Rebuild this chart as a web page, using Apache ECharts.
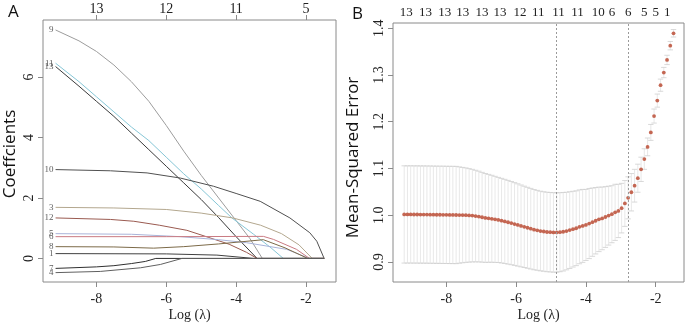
<!DOCTYPE html>
<html><head><meta charset="utf-8">
<script src="https://cdn.jsdelivr.net/npm/echarts@6/dist/echarts.min.js"></script>
<style>html,body{margin:0;padding:0;background:#fff}#c{width:688px;height:323px}</style>
</head><body><div id="c"></div>
<script>
// ---------- Panel A: coefficient paths (log lambda, coefficient) ----------
const coef9  = [[-9.17,7.56],[-8.5,7.2],[-8,6.85],[-7.5,6.4],[-7,5.85],[-6.5,5.2],[-6,4.4],[-5.5,3.55],[-5,2.75],[-4.5,2.0],[-4,1.25],[-3.6,0.65],[-3.25,0],[-1.48,0]];
const coef11 = [[-9.17,6.46],[-8.5,5.85],[-8,5.35],[-7.5,4.85],[-7,4.35],[-6.5,3.9],[-6,3.35],[-5.5,2.8],[-5,2.3],[-4.5,1.75],[-4.12,1.34],[-3.5,0.8],[-3,0.35],[-2.65,0],[-1.48,0]];
const coef13 = [[-9.17,6.35],[-8.5,5.7],[-8,5.2],[-7.5,4.7],[-7,4.15],[-6.5,3.6],[-6,3.05],[-5.5,2.5],[-5,1.95],[-4.5,1.35],[-4,0.72],[-3.4,0],[-1.48,0]];
const coef10 = [[-9.17,2.94],[-7.6,2.9],[-6.55,2.83],[-5.6,2.66],[-4.65,2.39],[-4,2.15],[-3.31,1.89],[-2.46,1.34],[-1.89,0.85],[-1.69,0.57],[-1.48,0]];
const coef3  = [[-9.17,1.69],[-7.5,1.67],[-6,1.62],[-5,1.5],[-4.1,1.34],[-3.3,1.1],[-2.7,0.82],[-2.2,0.45],[-1.82,0],[-1.48,0]];
const coef12 = [[-9.17,1.34],[-7.6,1.29],[-6.93,1.23],[-6.2,1.1],[-5.41,0.93],[-4.8,0.7],[-4.2,0.47],[-3.7,0.2],[-3.4,0],[-1.48,0]];
const coef5  = [[-9.17,0.82],[-7,0.8],[-5.6,0.72],[-4.5,0.62],[-3.7,0.52],[-2.55,0.3],[-1.9,0],[-1.48,0]];
const coef6  = [[-9.17,0.72],[-6,0.72],[-3.22,0.73],[-2.93,0.63],[-2.27,0.3],[-1.9,0],[-1.48,0]];
const coef8  = [[-9.17,0.39],[-7.5,0.38],[-6.36,0.34],[-5.5,0.39],[-4.5,0.48],[-3.22,0.62],[-2.6,0.35],[-1.95,0],[-1.48,0]];
const coef1  = [[-9.17,0.16],[-6,0.15],[-4.55,0.11],[-3.5,0],[-1.48,0]];
const coef7  = [[-9.17,-0.33],[-8,-0.28],[-7.5,-0.24],[-7,-0.17],[-6.6,-0.1],[-6.3,0],[-1.48,0]];
const coef4  = [[-9.17,-0.47],[-7.89,-0.43],[-6.74,-0.31],[-6.17,-0.2],[-5.55,0],[-1.48,0]];
const pathNames  = ['9','11','13','10','3','12','5','6','8','1','7','4'];
const pathColors = ['#9c9c9c','#86c6d6','#3a3a3a','#505050','#b3a78e','#9a5a50','#a9b3d8','#c97a82','#7c6a48','#404040','#303030','#606060'];
const pathData   = [coef9,coef11,coef13,coef10,coef3,coef12,coef5,coef6,coef8,coef1,coef7,coef4];
const topTicksA  = [-8,-6,-4,-2];
const topLabelsA = ['13','12','11','5'];
const xTicks = [-8,-6,-4,-2];
const yTicksA = [0,2,4,6];

// ---------- Panel B: cross-validation curve ----------
const logLambda = [-9.209,-9.116,-9.023,-8.93,-8.837,-8.744,-8.651,-8.558,-8.465,-8.372,-8.279,-8.186,-8.093,-8.0,-7.907,-7.814,-7.721,-7.628,-7.535,-7.442,-7.349,-7.256,-7.163,-7.07,-6.977,-6.884,-6.791,-6.698,-6.605,-6.512,-6.419,-6.326,-6.233,-6.14,-6.047,-5.954,-5.861,-5.768,-5.675,-5.582,-5.489,-5.396,-5.303,-5.21,-5.117,-5.024,-4.931,-4.838,-4.745,-4.652,-4.559,-4.466,-4.373,-4.28,-4.187,-4.094,-4.001,-3.908,-3.815,-3.722,-3.629,-3.536,-3.443,-3.35,-3.257,-3.164,-3.071,-2.978,-2.885,-2.792,-2.699,-2.606,-2.513,-2.42,-2.327,-2.234,-2.141,-2.048,-1.955,-1.862,-1.769,-1.676,-1.583,-1.49];
const mse = [1.0015,1.0015,1.0015,1.0014,1.0014,1.0013,1.0013,1.0012,1.0011,1.001,1.0009,1.0008,1.0007,1.0006,1.0005,1.0004,1.0003,1.0002,1.0001,1.0,0.9995,0.999,0.998,0.997,0.9955,0.994,0.9932,0.9922,0.991,0.9897,0.9882,0.9866,0.9848,0.983,0.981,0.979,0.977,0.975,0.973,0.971,0.969,0.9675,0.966,0.965,0.964,0.9635,0.963,0.963,0.9635,0.9645,0.966,0.968,0.970,0.972,0.975,0.977,0.979,0.982,0.985,0.988,0.991,0.993,0.996,0.999,1.002,1.006,1.009,1.015,1.025,1.037,1.049,1.063,1.079,1.098,1.12,1.146,1.177,1.212,1.245,1.278,1.305,1.332,1.3625,1.389];
const cvse = [0.104,0.104,0.104,0.104,0.104,0.104,0.104,0.104,0.104,0.104,0.104,0.104,0.104,0.104,0.104,0.104,0.104,0.103,0.102,0.101,0.1,0.099,0.098,0.097,0.096,0.095,0.094,0.093,0.092,0.091,0.0905,0.09,0.0895,0.089,0.0885,0.088,0.0875,0.087,0.0866,0.0862,0.0858,0.0855,0.0852,0.085,0.085,0.085,0.085,0.085,0.0845,0.084,0.083,0.082,0.081,0.08,0.079,0.078,0.076,0.075,0.073,0.071,0.069,0.067,0.065,0.063,0.061,0.06,0.057,0.053,0.049,0.045,0.04,0.035,0.03,0.026,0.022,0.019,0.017,0.015,0.014,0.013,0.011,0.01,0.009,0.008];
const vlines = [-4.838,-2.792];
const topPosB = [-9.15,-8.6,-8.05,-7.53,-6.98,-6.46,-5.89,-5.37,-4.79,-4.24,-3.65,-3.25,-2.79,-2.33,-2.0,-1.67];
const topLabB = ['13','13','13','13','13','13','12','11','11','11','10','6','6','5','5','1'];
const yTicksB = [0.9,1.0,1.1,1.2,1.3,1.4];

const SERIF = 'Liberation Serif';
const SANS = 'Open Sans';
const AX = '#8a8a8a';
const TXT = '#222';

function xAx(grid, min, max) {
  return {
    type:'value', gridIndex:grid, min:min, max:max,
    axisLine:{show:false, onZero:false}, splitLine:{show:false},
    axisTick:{show:true, length:5, lineStyle:{color:AX}, customValues:xTicks},
    axisLabel:{customValues:xTicks, fontFamily:SERIF, fontSize:14, color:TXT, margin:10},
    name:'Log (\u03bb)', nameLocation:'middle', nameGap:26, nameMoveOverlap:false,
    nameTextStyle:{fontFamily:SERIF, fontSize:14, color:TXT}
  };
}
function yAx(grid, min, max, ticks, name, gap, fmt, pad) {
  return {
    type:'value', gridIndex:grid, min:min, max:max,
    axisLine:{show:false, onZero:false}, splitLine:{show:false},
    axisTick:{show:true, length:5, lineStyle:{color:AX}, customValues:ticks},
    axisLabel:{customValues:ticks, rotate:90, align:'center', verticalAlign:'bottom',
      fontFamily:SERIF, fontSize:14, color:TXT, margin:7, formatter:fmt},
    name:name, nameLocation:'middle', nameGap:gap, nameRotate:90, nameMoveOverlap:false,
    nameTextStyle:{fontFamily:SANS, fontSize:17, color:'#111', padding:[0,pad,0,0]}
  };
}
function nearestLabel(v, pos, lab){
  let bi=0, bd=1e9; pos.forEach((p,i)=>{const d=Math.abs(p-v); if(d<bd){bd=d;bi=i;}}); return lab[bi];
}

const series = [];
pathData.forEach((d,i)=>{
  series.push({
    type:'line', xAxisIndex:0, yAxisIndex:0, showSymbol:false, symbol:'none', silent:true,
    lineStyle:{color:pathColors[i], width:1}, z:2, data:d, animation:false
  });
});
// variable labels at the left end of each path
series.push({
  type:'scatter', xAxisIndex:0, yAxisIndex:0, silent:true, symbolSize:2, z:4,
  itemStyle:{color:'rgba(0,0,0,0)'},
  data: pathData.map((d,i)=>({value:d[0], name:pathNames[i]})),
  label:{show:true, position:'left', distance:1, formatter:(p)=>p.name,
    fontFamily:SERIF, fontSize:9, color:'#333'},
  labelLayout:{hideOverlap:false},
  animation:false
});

const errData = logLambda.map((x,i)=>[x, mse[i]-cvse[i], mse[i]+cvse[i]]);
const capW = (logLambda[logLambda.length-1]-logLambda[0])*0.01;
series.push({
  type:'custom', xAxisIndex:2, yAxisIndex:1, silent:true, z:1,
  data: errData,
  renderItem:function(params, api){
    const x=api.value(0), lo=api.value(1), hi=api.value(2);
    const a=api.coord([x,hi]), b=api.coord([x,lo]);
    const aL=api.coord([x-capW,hi]), aR=api.coord([x+capW,hi]);
    const bL=api.coord([x-capW,lo]), bR=api.coord([x+capW,lo]);
    const st={stroke:'#cfcfcf', lineWidth:0.8};
    return {type:'group', children:[
      {type:'line', shape:{x1:a[0],y1:a[1],x2:b[0],y2:b[1]}, style:{stroke:'#e2e2e2', lineWidth:0.8}},
      {type:'line', shape:{x1:aL[0],y1:aL[1],x2:aR[0],y2:aR[1]}, style:st},
      {type:'line', shape:{x1:bL[0],y1:bL[1],x2:bR[0],y2:bR[1]}, style:st}
    ]};
  },
  animation:false
});
series.push({
  type:'scatter', xAxisIndex:2, yAxisIndex:1, symbolSize:3.8, z:3, silent:true,
  itemStyle:{color:'#b8432a'},
  data: logLambda.map((x,i)=>[x,mse[i]]),
  markLine:{symbol:'none', silent:true, label:{show:false}, animation:false,
    lineStyle:{type:[2,2], color:'#9a9a9a', width:1},
    data: vlines.map(v=>({xAxis:v}))},
  animation:false
});

const option = {
  animation:false,
  title:[
    {text:'A', left:3, top:-1, textStyle:{fontFamily:SANS, fontSize:17, fontWeight:'normal', color:'#111'}},
    {text:'B', left:347, top:1, textStyle:{fontFamily:SANS, fontSize:17, fontWeight:'normal', color:'#111'}}
  ],
  grid:[
    {left:43, top:20, width:293, height:262, show:true, borderColor:AX, borderWidth:1, backgroundColor:'transparent', outerBoundsMode:'none', containLabel:false},
    {left:393, top:23, width:291, height:259, show:true, borderColor:AX, borderWidth:1, backgroundColor:'transparent', outerBoundsMode:'none', containLabel:false}
  ],
  xAxis:[
    xAx(0,-9.53,-1.14),
    {type:'value', gridIndex:0, position:'top', min:-9.53, max:-1.14,
     axisLine:{show:false, onZero:false}, splitLine:{show:false},
     axisTick:{show:true, length:5, lineStyle:{color:AX}, customValues:topTicksA},
     axisLabel:{customValues:topTicksA, fontFamily:SERIF, fontSize:14, color:TXT, margin:4,
       formatter:(v)=>nearestLabel(v, topTicksA, topLabelsA)}},
    xAx(1,-9.53,-1.19),
    {type:'value', gridIndex:1, position:'top', min:-9.53, max:-1.19,
     axisLine:{show:false, onZero:false}, splitLine:{show:false},
     axisTick:{show:false},
     axisLabel:{customValues:topPosB, fontFamily:SERIF, fontSize:13, color:TXT, margin:4,
       formatter:(v)=>nearestLabel(v, topPosB, topLabB)}}
  ],
  yAxis:[
    yAx(0,-0.78,7.89,yTicksA,'Coeffcients',24,(v)=>String(v),6),
    yAx(1,0.857,1.411,yTicksB,'Mean-Squared Error',31,(v)=>Number(v).toFixed(1),10)
  ],
  series: series
};
const chart = echarts.init(document.getElementById('c'), null, {renderer:'canvas'});
chart.setOption(option);
</script>
</body></html>
